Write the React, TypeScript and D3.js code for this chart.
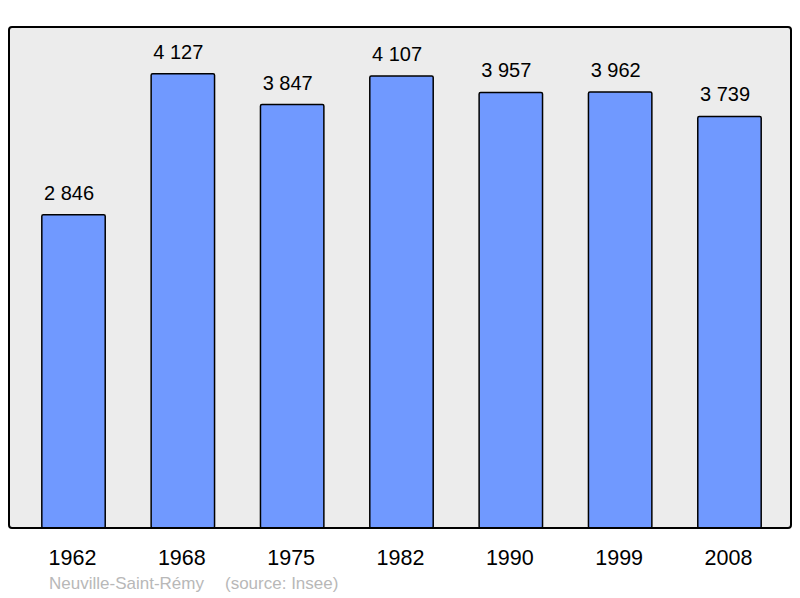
import React from "react";
import * as d3 from "d3";

const years = ["1962", "1968", "1975", "1982", "1990", "1999", "2008"];
const population = [2846, 4127, 3847, 4107, 3957, 3962, 3739];
const labels = ["2 846", "4 127", "3 847", "4 107", "3 957", "3 962", "3 739"];
const town = "Neuville-Saint-Rémy";
const source = "(source: Insee)";

const W = 800;
const H = 598;
const frame = { left: 9, top: 27, right: 791, bottom: 528 };

export default function App() {
  const x = d3
    .scaleBand<string>()
    .domain(years)
    .range([18.85, 784.15])
    .paddingInner(0.42)
    .paddingOuter(0.21);
  const y = d3.scaleLinear().domain([0, 4552]).range([frame.bottom, frame.top]);
  const font = "'Liberation Sans', Arial, sans-serif";

  return (
    <svg
      width={W}
      height={H}
      style={{ position: "absolute", left: 0, top: 0, display: "block" }}
    >
      <rect x={0} y={0} width={W} height={H} fill="#ffffff" />
      <rect
        x={frame.left}
        y={frame.top}
        width={frame.right - frame.left}
        height={frame.bottom - frame.top}
        rx={3}
        ry={3}
        fill="#ececec"
        stroke="none"
      />
      {years.map((yr, i) => (
        <g key={yr}>
          <rect
            x={x(yr)!}
            y={y(population[i])}
            width={x.bandwidth()}
            height={y(0) - y(population[i])}
            fill="#7099ff"
            stroke="#000"
            strokeWidth={1.5}
            rx={1.5}
          />
          <text
            x={x(yr)! + x.bandwidth() / 2 - 4.5}
            y={y(population[i]) - 15}
            textAnchor="middle"
            fontFamily={font}
            fontSize={20}
            fill="#000"
          >
            {labels[i]}
          </text>
          <text
            x={x(yr)! + x.bandwidth() / 2 - 1}
            y={565}
            textAnchor="middle"
            fontFamily={font}
            fontSize={21.5}
            fill="#000"
          >
            {yr}
          </text>
        </g>
      ))}
      <rect
        x={frame.left}
        y={frame.top}
        width={frame.right - frame.left}
        height={frame.bottom - frame.top}
        rx={3}
        ry={3}
        fill="none"
        stroke="#000"
        strokeWidth={2}
      />
      <text x={49} y={589} fontFamily={font} fontSize={17} fill="#b8b8b8">
        {town}
      </text>
      <text x={225} y={589} fontFamily={font} fontSize={17} fill="#b8b8b8">
        {source}
      </text>
    </svg>
  );
}
